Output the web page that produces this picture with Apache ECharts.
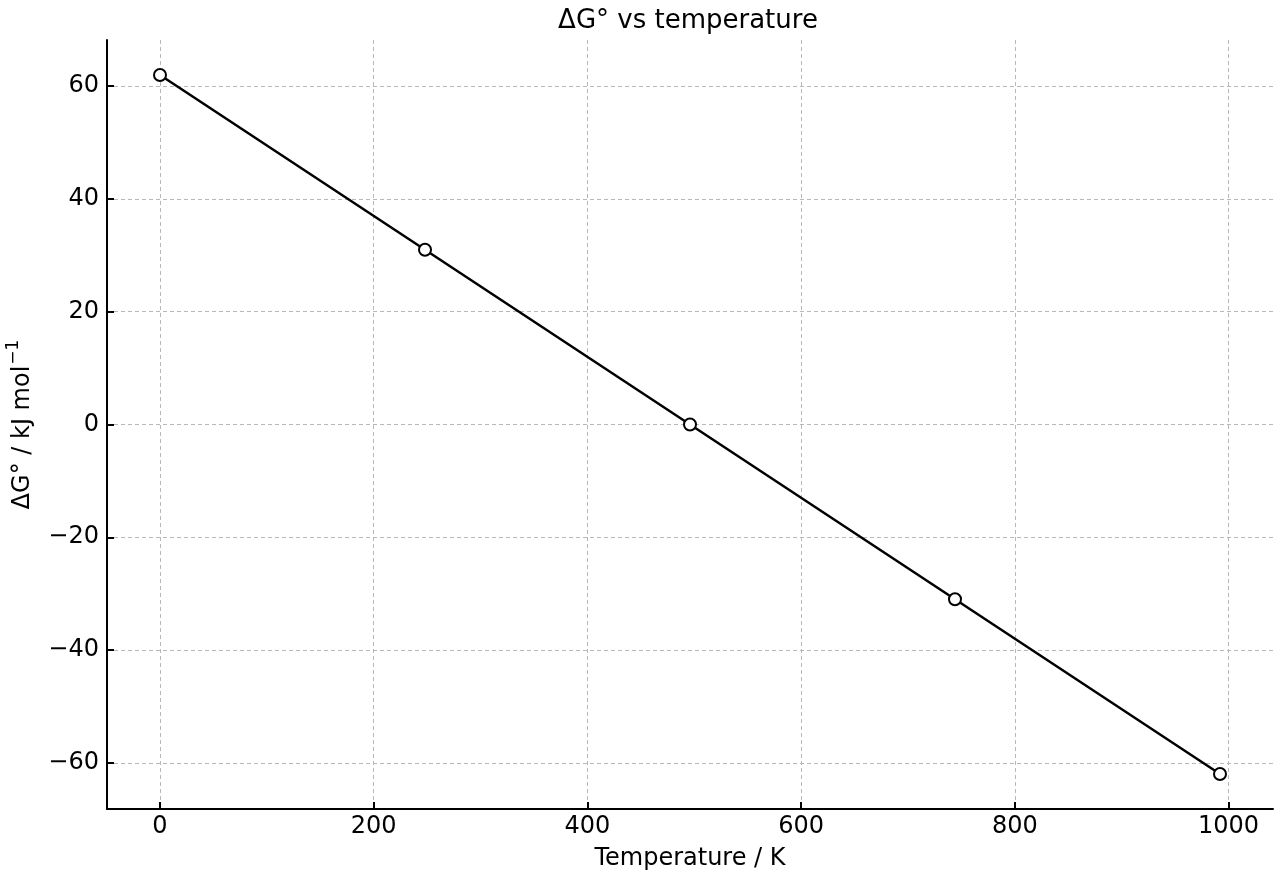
<!DOCTYPE html>
<html>
<head>
<meta charset="utf-8">
<title>ΔG° vs temperature</title>
<script src="https://cdn.jsdelivr.net/npm/echarts@6/dist/echarts.min.js"></script>
<style>
  html, body { margin: 0; padding: 0; background: #fff; }
  #chart { width: 1280px; height: 880px; }
</style>
</head>
<body>
<div id="chart"></div>
<script>
// data
var temperature = [0, 248, 496, 744, 992];
var deltaG = [62, 31, 0, -31, -62];
var xTicks = [0, 200, 400, 600, 800, 1000];
var yTicks = [-60, -40, -20, 0, 20, 40, 60];

// matplotlib style 5% padding on both axes
var xPad = (temperature[temperature.length - 1] - temperature[0]) * 0.05;
var yPad = (Math.max.apply(null, deltaG) - Math.min.apply(null, deltaG)) * 0.05;

function minus(v) {
  return v < 0 ? '\u2212' + Math.abs(v) : String(v);
}

var font = 'DejaVu Sans';
var chart = echarts.init(document.getElementById('chart'));

chart.setOption({
  animation: false,
  backgroundColor: '#fff',
  title: {
    text: 'ΔG° vs temperature',
    left: 683,
    textAlign: 'center',
    top: 3,
    textStyle: { fontFamily: font, fontSize: 26, fontWeight: 'normal', color: '#000' }
  },
  grid: { left: 107, right: 7, top: 40, bottom: 71, outerBoundsMode: 'none' },
  xAxis: {
    type: 'value',
    min: temperature[0] - xPad,
    max: temperature[temperature.length - 1] + xPad,
    name: 'Temperature / K',
    nameLocation: 'middle',
    nameGap: 38,
    nameTextStyle: { fontFamily: font, fontSize: 24, color: '#000' },
    axisLine: { onZero: false, lineStyle: { color: '#000', width: 2 } },
    axisTick: { inside: true, length: 7, customValues: xTicks, lineStyle: { color: '#000', width: 2 } },
    axisLabel: { customValues: xTicks, formatter: minus, margin: 6, fontFamily: font, fontSize: 24, color: '#000' },
    splitLine: { show: true, lineStyle: { color: '#b8b8b8', type: [4, 3], width: 1 } }
  },
  yAxis: {
    type: 'value',
    min: -Math.max.apply(null, deltaG) - yPad,
    max: Math.max.apply(null, deltaG) + yPad,
    name: '{m|ΔG° / kJ mol}{sup|−1}',
    nameLocation: 'middle',
    nameGap: 72,
    nameTextStyle: {
      fontFamily: font, fontSize: 24, color: '#000',
      rich: {
        m: { fontFamily: font, fontSize: 24, color: '#000', verticalAlign: 'bottom' },
        sup: { fontFamily: font, fontSize: 17, color: '#000', verticalAlign: 'top', padding: [0, 0, 13, 1] }
      }
    },
    axisLine: { onZero: false, lineStyle: { color: '#000', width: 2 } },
    axisTick: { inside: true, length: 7, customValues: yTicks, lineStyle: { color: '#000', width: 2 } },
    axisLabel: { customValues: yTicks, formatter: minus, margin: 8, fontFamily: font, fontSize: 24, color: '#000' },
    splitLine: { show: true, lineStyle: { color: '#b8b8b8', type: [4, 3], width: 1 } }
  },
  series: [{
    type: 'line',
    data: temperature.map(function (t, i) { return [t, deltaG[i]]; }),
    symbol: 'circle',
    symbolSize: 12,
    lineStyle: { color: '#000', width: 2.5 },
    itemStyle: { color: '#fff', borderColor: '#000', borderWidth: 2 },
    z: 5
  }]
});
</script>
</body>
</html>
